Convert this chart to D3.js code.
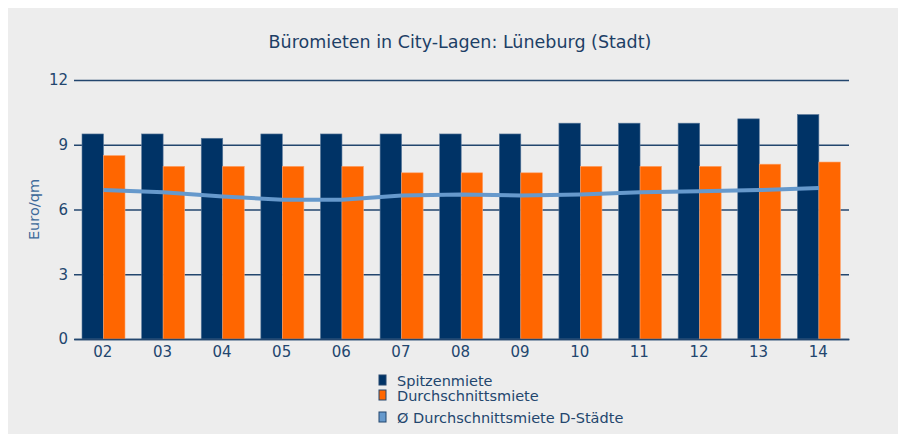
<!DOCTYPE html>
<html>
<head>
<meta charset="utf-8">
<script src="https://cdn.jsdelivr.net/npm/d3@7"></script>
<style>
  body { margin: 0; background: #fff; }
  svg text { font-family: "DejaVu Sans", Verdana, sans-serif; }
</style>
</head>
<body>
<div id="chart"></div>
<script>
// Jahre (2002 - 2014)
var years = ['02', '03', '04', '05', '06', '07', '08', '09', '10', '11', '12', '13', '14'];
var spitzenmiete = [9.5, 9.5, 9.3, 9.5, 9.5, 9.5, 9.5, 9.5, 10.0, 10.0, 10.0, 10.2, 10.4];
var durchschnittsmiete = [8.5, 8.0, 8.0, 8.0, 8.0, 7.7, 7.7, 7.7, 8.0, 8.0, 8.0, 8.1, 8.2];
var dStaedte = [6.9, 6.8, 6.6, 6.45, 6.45, 6.65, 6.7, 6.65, 6.7, 6.8, 6.85, 6.9, 7.0];
var yTicks = [0, 3, 6, 9, 12];
var legendLabels = ['Spitzenmiete', 'Durchschnittsmiete', 'Ø Durchschnittsmiete D-Städte'];

var width = 898, height = 434;
var margin = { left: 74, right: 49, top: 80, bottom: 95 };

var svg = d3.select('#chart').append('svg')
    .attr('width', width)
    .attr('height', height);

// grauer Hintergrund
svg.append('rect')
    .attr('x', 8).attr('y', 8)
    .attr('width', width - 8).attr('height', height - 8)
    .attr('fill', '#ededed');

svg.append('text')
    .attr('x', 460).attr('y', 48)
    .attr('text-anchor', 'middle')
    .attr('font-size', 17.5)
    .attr('fill', '#1d3f66')
    .text('Büromieten in City-Lagen: Lüneburg (Stadt)');

var x = d3.scaleBand()
    .domain(years)
    .range([margin.left, width - margin.right]);

var y = d3.scaleLinear()
    .domain([0, 12])
    .range([height - margin.bottom, margin.top]);

// Gitterlinien
var grid = svg.append('g')
    .attr('transform', 'translate(' + margin.left + ',0)')
    .call(d3.axisLeft(y).tickValues(yTicks).tickSize(0).tickPadding(6));
grid.select('.domain').remove();
grid.selectAll('.tick line')
    .attr('x1', 0)
    .attr('x2', width - margin.right - margin.left)
    .attr('stroke', '#23466e')
    .attr('stroke-width', 1.3);
grid.selectAll('.tick text')
    .attr('font-size', 15)
    .attr('fill', '#23466e');

svg.append('text')
    .attr('transform', 'translate(39,' + (y(6)) + ') rotate(-90)')
    .attr('text-anchor', 'middle')
    .attr('font-size', 14.5)
    .attr('fill', '#3e6a9a')
    .text('Euro/qm');

var barW = 21.5;
var offset = 8;

var groups = svg.append('g').selectAll('g')
    .data(years)
    .enter().append('g')
    .attr('transform', function (d) { return 'translate(' + x(d) + ',0)'; });

groups.append('rect')
    .attr('x', offset)
    .attr('y', function (d, i) { return y(spitzenmiete[i]); })
    .attr('width', barW)
    .attr('height', function (d, i) { return y(0) - y(spitzenmiete[i]); })
    .attr('fill', '#003366')
    .attr('stroke', '#5b7a9c')
    .attr('stroke-width', 0.6);

groups.append('rect')
    .attr('x', offset + barW)
    .attr('y', function (d, i) { return y(durchschnittsmiete[i]); })
    .attr('width', barW)
    .attr('height', function (d, i) { return y(0) - y(durchschnittsmiete[i]); })
    .attr('fill', '#ff6600')
    .attr('stroke', '#ffa36b')
    .attr('stroke-width', 0.6);

// Linie D-Städte
var line = d3.line()
    .x(function (d, i) { return x(years[i]) + offset + barW; })
    .y(function (d) { return y(d); });

svg.append('path')
    .datum(dStaedte)
    .attr('d', line)
    .attr('fill', 'none')
    .attr('stroke', '#6699cc')
    .attr('stroke-width', 4);

// x-Achse
var xAxis = svg.append('g')
    .attr('transform', 'translate(0,' + y(0) + ')')
    .call(d3.axisBottom(x).tickSize(0).tickPadding(7));
xAxis.select('.domain')
    .attr('stroke', '#23466e')
    .attr('stroke-width', 1.5);
xAxis.selectAll('.tick text')
    .attr('font-size', 15)
    .attr('fill', '#23466e')
    .attr('dx', '-1');

// Legende
var legendColors = ['#003366', '#ff6600', '#6699cc'];
var legendY = [386, 401, 423];
var legend = svg.append('g').selectAll('g')
    .data(legendLabels)
    .enter().append('g');
legend.append('rect')
    .attr('x', 379)
    .attr('y', function (d, i) { return legendY[i] - 11; })
    .attr('width', 7)
    .attr('height', 10)
    .attr('fill', function (d, i) { return legendColors[i]; })
    .attr('stroke', '#23466e')
    .attr('stroke-width', 1);
legend.append('text')
    .attr('x', 397)
    .attr('y', function (d, i) { return legendY[i]; })
    .attr('font-size', 14.5)
    .attr('fill', '#23466e')
    .text(function (d) { return d; });
</script>
</body>
</html>
